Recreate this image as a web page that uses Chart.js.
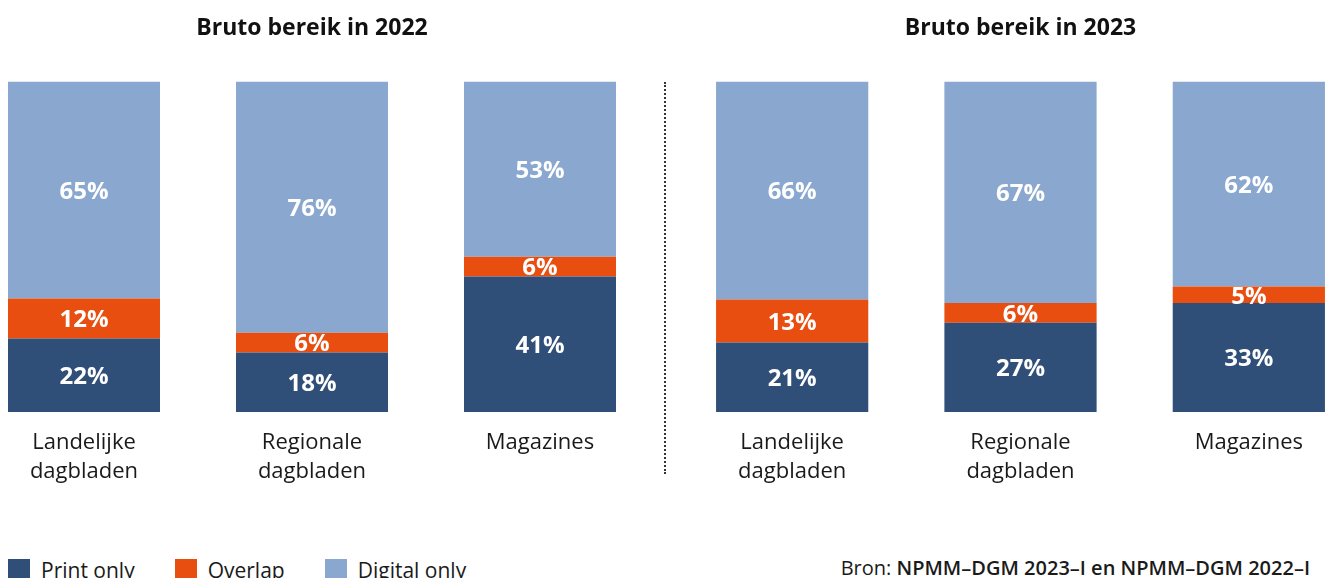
<!DOCTYPE html>
<html lang="nl">
<head>
<meta charset="utf-8">
<title>Bruto bereik 2022 - 2023</title>
<script src="https://cdn.jsdelivr.net/npm/chart.js@4.4.1/dist/chart.umd.min.js"></script>
<style>
    html, body { margin: 0; padding: 0; background: #fff; }
    body { width: 1325px; height: 578px; overflow: hidden; position: relative; font-family: "Open Sans", sans-serif; color: #1a1a1a; }
    .grafiek { position: absolute; top: 0; height: 502px; }
    #wrap-2022 { left: -30px; width: 684px; }
    #wrap-2023 { left: 678px; width: 685px; }
    .scheiding { position: absolute; left: 664px; top: 82px; height: 392px; border-left: 2px dotted #333; }
    .legenda { position: absolute; top: 559px; left: 8px; display: flex; font-size: 21px; line-height: 22px; }
    .legenda span.item { display: flex; align-items: center; margin-right: 40px; }
    .legenda i { display: inline-block; width: 22px; height: 22px; margin-right: 11px; }
    .bron { position: absolute; right: 15px; top: 557px; font-size: 20px; line-height: 22px; }
    .bron b { font-weight: 600; }
</style>
</head>
<body>

<div class="grafiek" id="wrap-2022"><canvas id="chart-2022"></canvas></div>
<div class="scheiding"></div>
<div class="grafiek" id="wrap-2023"><canvas id="chart-2023"></canvas></div>

<div class="legenda">
    <span class="item"><i style="background:#304f78"></i>Print only</span>
    <span class="item"><i style="background:#e84e10"></i>Overlap</span>
    <span class="item"><i style="background:#8aa7cf"></i>Digital only</span>
</div>
<div class="bron">Bron: <b>NPMM–DGM 2023–I en NPMM–DGM 2022–I</b></div>

<script>
// ---- data ----
const categorieen = [['Landelijke', 'dagbladen'], ['Regionale', 'dagbladen'], 'Magazines'];

const printOnly2022 = [22, 18, 41];
const overlap2022 = [12, 6, 6];
const digitalOnly2022 = [65, 76, 53];

const printOnly2023 = [21, 27, 33];
const overlap2023 = [13, 6, 5];
const digitalOnly2023 = [66, 67, 62];

const kleuren = { print: '#304f78', overlap: '#e84e10', digital: '#8aa7cf' };

// waarden omrekenen naar 100% per staaf (afronding telt soms op tot 99)
function naarAandeel(reeks, alle) {
    return reeks.map((v, i) => v / alle.reduce((s, r) => s + r[i], 0) * 100);
}

// labels in het midden van elk segment
const labelPlugin = {
    id: 'segmentLabels',
    afterDatasetsDraw(chart) {
        const ctx = chart.ctx;
        ctx.save();
        ctx.fillStyle = '#ffffff';
        ctx.font = 'bold 24px "Open Sans", sans-serif';
        ctx.textAlign = 'center';
        ctx.textBaseline = 'middle';
        chart.data.datasets.forEach((ds, di) => {
            const meta = chart.getDatasetMeta(di);
            meta.data.forEach((bar, i) => {
                const midden = (bar.y + bar.base) / 2;
                ctx.fillText(ds.ruw[i] + '%', bar.x, midden + 2);
            });
        });
        ctx.restore();
    }
};

function maakGrafiek(id, titel, print, overlap, digital) {
    const alle = [print, overlap, digital];
    const reeks = (label, data, kleur) => ({
        label: label,
        data: naarAandeel(data, alle),
        ruw: data,
        backgroundColor: kleur,
        borderWidth: 0,
        barPercentage: 1,
        categoryPercentage: 152 / 228
    });

    return new Chart(document.getElementById(id), {
        type: 'bar',
        data: {
            labels: categorieen,
            datasets: [
                reeks('Print only', print, kleuren.print),
                reeks('Overlap', overlap, kleuren.overlap),
                reeks('Digital only', digital, kleuren.digital)
            ]
        },
        options: {
            responsive: true,
            maintainAspectRatio: false,
            animation: false,
            layout: { padding: 0 },
            plugins: {
                legend: { display: false },
                tooltip: { enabled: false },
                title: {
                    display: true,
                    text: titel,
                    color: '#111111',
                    font: { family: '"Open Sans", sans-serif', size: 23, weight: 'bold' },
                    padding: { top: 15, bottom: 39 }
                }
            },
            scales: {
                x: {
                    stacked: true,
                    grid: { display: false, drawTicks: false },
                    border: { display: false },
                    ticks: {
                        color: '#1a1a1a',
                        padding: 16,
                        font: { family: '"Open Sans", sans-serif', size: 22, lineHeight: 1.32 }
                    }
                },
                y: { stacked: true, display: false, min: 0, max: 100 }
            }
        },
        plugins: [labelPlugin]
    });
}

maakGrafiek('chart-2022', 'Bruto bereik in 2022', printOnly2022, overlap2022, digitalOnly2022);
maakGrafiek('chart-2023', 'Bruto bereik in 2023', printOnly2023, overlap2023, digitalOnly2023);
</script>
</body>
</html>
